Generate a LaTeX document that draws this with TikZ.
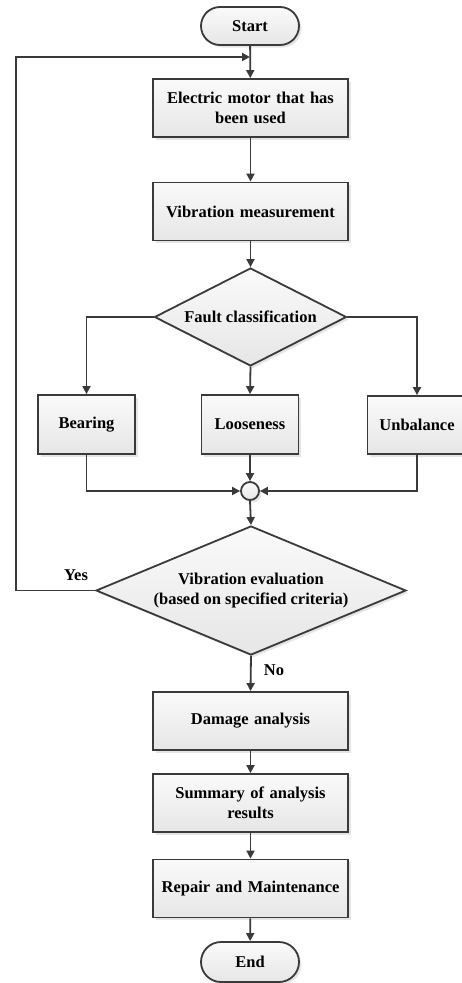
\documentclass[tikz,border=0pt]{standalone}
\usepackage{fontspec}
\setmainfont{Liberation Serif}
\usetikzlibrary{shapes.geometric,arrows.meta,shadows}
\definecolor{ln}{HTML}{3A3A3A}
\definecolor{fltop}{HTML}{FAFAFA}
\definecolor{flbot}{HTML}{E6E6E6}
\tikzset{
  base/.style={draw=ln, line width=1.8pt, top color=fltop, bottom color=flbot,
    drop shadow={shadow xshift=2.5pt, shadow yshift=-2.5pt, fill=black!20},
    font=\fontsize{16.5}{20}\selectfont\bfseries, align=center, inner sep=0pt},
  procbox/.style={base, rectangle, minimum width=195pt, minimum height=58pt, text width=185pt},
  smallbox/.style={base, rectangle, minimum width=97pt, minimum height=59pt},
  term/.style={base, rectangle, rounded corners=19pt, minimum width=98pt, minimum height=38pt},
  decision/.style={base, diamond},
  junction/.style={base, circle, minimum size=18pt},
  conn/.style={draw=ln, line width=1.8pt, -{Triangle[length=8pt,width=8pt]}},
  lbl/.style={font=\fontsize{16.5}{20}\selectfont\bfseries, inner sep=0pt}
}
\begin{document}
\begin{tikzpicture}[x=1pt,y=-1pt]
\useasboundingbox (0,0) rectangle (462,983);
\clip (0,0) rectangle (462,983);
\node[term] (start) at (250,26) {Start};
\node[procbox] (motor) at (250.5,108) {Electric motor that has\\been used};
\node[procbox] (meas) at (250.5,211.5) {Vibration measurement};
\node[decision, minimum width=192pt, minimum height=98pt, aspect=1.96] (fault) at (250.5,317) {Fault classification};
\node[smallbox] (bear) at (86.5,424.5) {Bearing};
\node[smallbox] (loose) at (250,424.5) {Looseness};
\node[smallbox, minimum width=99pt, minimum height=58pt] (unb) at (417,425) {Unbalance};
\node[junction] (circ) at (250,491) {};
\node[decision, minimum width=310pt, minimum height=129pt, aspect=2.4] (eval) at (251,590.5) {Vibration evaluation\\(based on specified criteria)};
\node[procbox] (dmg) at (250.5,721) {Damage analysis};
\node[procbox] (summ) at (250.5,803) {Summary of analysis\\results};
\node[procbox] (rep) at (250.5,888.5) {Repair and Maintenance};
\node[term, minimum height=40pt, rounded corners=20pt] (end) at (250,962) {End};
\coordinate (loopin) at (250,57);
\coordinate (loopcorner) at (16,57);
\node[lbl] (yes) at (76,575) {Yes};
\node[lbl] (no) at (274,670) {No};

\draw[conn] (start) -- (motor);
\draw[conn] (motor) -- (meas);
\draw[conn] (meas) -- (fault);
\draw[conn] (fault.west) -| (bear.north);
\draw[conn] (fault.south) -- (loose.north);
\draw[conn] (fault.east) -| (unb.north);
\draw[conn] (bear.south) |- (circ.west);
\draw[conn] (loose.south) -- (circ.north);
\draw[conn] (unb.south) |- (circ.east);
\draw[conn] (circ.south) -- (eval.north);
\draw[conn] (eval.west) -| (loopcorner) -- (loopin);
\draw[conn] (eval.south) -- (dmg.north);
\draw[conn] (dmg) -- (summ);
\draw[conn] (summ) -- (rep);
\draw[conn] (rep) -- (end);
\end{tikzpicture}
\end{document}
